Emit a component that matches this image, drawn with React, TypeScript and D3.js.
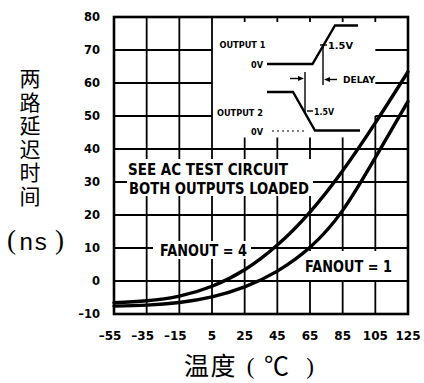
import React from "react";
import * as d3 from "d3";

// Propagation delay vs. temperature for two fanout loads
const temps = [-55, -35, -15, 5, 25, 45, 65, 85, 105, 125];
const fanout4 = [-6.6, -6.0, -4.6, -1.6, 3.4, 10.9, 20.9, 33.4, 47.9, 63.4];
const fanout1 = [-7.6, -7.3, -6.5, -4.8, -1.8, 3.0, 10.2, 21.4, 37.4, 54.4];

const yTicks = [-10, 0, 10, 20, 30, 40, 50, 60, 70, 80];
const xTickLabels = ["–55", "–35", "–15", "5", "25", "45", "65", "85", "105", "125"];
const yTitle = "两路延迟时间";
const xTitleWord = "温度";
const xTitleUnit = "℃";

const W = 424;
const H = 383;

const x = d3.scaleLinear().domain([-55, 125]).range([114, 408]);
const y = d3.scaleLinear().domain([-10, 80]).range([314, 17]);

const line = d3
  .line<number>()
  .x((_, i) => x(temps[i]))
  .y((d) => y(d))
  .curve(d3.curveNatural);

const tickFont = "'DejaVu Sans', sans-serif";
const cjkFont = "'Noto Sans CJK SC', sans-serif";

export default function App() {
  const x0 = x(-55);
  const x1 = x(125);
  const yTop = y(80);
  const yBot = y(-10);

  // grid segments; the upper-right block is kept open for the timing sketch
  const hLines: [number, number, number][] = [];
  yTicks
    .filter((v) => v > -10 && v < 80)
    .forEach((v) => {
      if (v >= 50) {
        hLines.push([x0, x(5), y(v)]);
        hLines.push([x(105), x1, y(v)]);
      } else {
        hLines.push([x0, x1, y(v)]);
      }
    });
  const vLines: [number, number, number][] = [];
  temps
    .filter((t) => t > -55 && t < 125)
    .forEach((t) => {
      if (t <= 5) {
        vLines.push([x(t), yTop, yBot]);
      } else {
        const start = t === 105 ? y(50) : y(43.5);
        vLines.push([x(t), start, yBot]);
        vLines.push([x(t), yTop, yTop + 5]);
      }
    });

  const bold = { fontFamily: tickFont, fontWeight: 700 } as const;

  return (
    <svg
      width={W}
      height={H}
      viewBox={`0 0 ${W} ${H}`}
      style={{ position: "absolute", left: 0, top: 0, background: "#fff" }}
    >
      <rect x={0} y={0} width={W} height={H} fill="#fff" />

      {/* grid */}
      <g stroke="#000" strokeWidth={1.8}>
        {hLines.map(([a, b, yy], i) => (
          <line key={"h" + i} x1={a} x2={b} y1={yy} y2={yy} />
        ))}
        {vLines.map(([xx, a, b], i) => (
          <line key={"v" + i} x1={xx} x2={xx} y1={a} y2={b} />
        ))}
      </g>

      {/* label backgrounds */}
      <g fill="#fff">
        <rect x={127} y={159} width={186} height={37} />
        <rect x={153} y={241} width={98} height={18} />
        <rect x={299} y={251} width={102} height={29} />
      </g>

      {/* curves */}
      <g fill="none" stroke="#000" strokeWidth={3.4} strokeLinecap="round">
        <path d={line(fanout4) ?? ""} />
        <path d={line(fanout1) ?? ""} />
      </g>

      {/* frame */}
      <rect
        x={x0}
        y={yTop}
        width={x1 - x0}
        height={yBot - yTop}
        fill="none"
        stroke="#000"
        strokeWidth={2.6}
      />

      {/* annotations */}
      <g {...bold} fontSize={16} fill="#000">
        <text x={128} y={175} textLength={160} lengthAdjust="spacingAndGlyphs">
          SEE AC TEST CIRCUIT
        </text>
        <text x={129} y={193.5} textLength={180} lengthAdjust="spacingAndGlyphs">
          BOTH OUTPUTS LOADED
        </text>
        <text x={160} y={255.5} fontSize={15} textLength={87} lengthAdjust="spacingAndGlyphs">
          FANOUT = 4
        </text>
        <text x={305} y={271.5} fontSize={15} textLength={87} lengthAdjust="spacingAndGlyphs">
          FANOUT = 1
        </text>
      </g>

      {/* timing sketch */}
      <g fill="none" stroke="#000" strokeWidth={2.4}>
        <path d="M267,64 H312.5 L335,25.5 H358" />
        <path d="M267,92 H293 L315,130.5 H360" />
      </g>
      <g stroke="#000" strokeWidth={1.4} fill="none">
        <line x1={323} x2={323} y1={44} y2={85} />
        <line x1={305} x2={305} y1={72} y2={113} />
        <line x1={320} x2={327} y1={45} y2={45} />
        <line x1={307} x2={313} y1={111} y2={111} />
        <line x1={290} x2={300} y1={78.5} y2={78.5} />
        <line x1={337} x2={328} y1={79.5} y2={79.5} />
        <line x1={272} x2={304} y1={131} y2={131} strokeDasharray="2 3" strokeWidth={1} />
      </g>
      <g fill="#000">
        <path d="M304,78.5 L298,76 L298,81 Z" />
        <path d="M324,79.5 L330,77 L330,82 Z" />
      </g>
      <g {...bold} fontSize={9} fill="#000">
        <text x={219.5} y={48.3} textLength={46} lengthAdjust="spacingAndGlyphs">OUTPUT 1</text>
        <text x={217} y={115.7} textLength={46} lengthAdjust="spacingAndGlyphs">OUTPUT 2</text>
        <text x={251} y={67.5} textLength={12} lengthAdjust="spacingAndGlyphs">0V</text>
        <text x={251} y={134.5} textLength={12} lengthAdjust="spacingAndGlyphs">0V</text>
        <text x={328} y={48.5} textLength={25} lengthAdjust="spacingAndGlyphs">1.5V</text>
        <text x={314} y={114.5} textLength={20} lengthAdjust="spacingAndGlyphs">1.5V</text>
        <text x={343} y={83} textLength={32} lengthAdjust="spacingAndGlyphs">DELAY</text>
      </g>

      {/* y tick labels */}
      <g {...bold} fontSize={11.5} fill="#000" textAnchor="end">
        {yTicks.map((v) => (
          <text key={v} x={100} y={y(v) + 4.2}>
            {v < 0 ? "–" + Math.abs(v) : String(v)}
          </text>
        ))}
      </g>

      {/* x tick labels */}
      <g {...bold} fontSize={12} fill="#000" textAnchor="middle">
        {temps.map((t, i) => (
          <text key={t} x={x(t) + (t < 0 ? -4 : 0)} y={340}>
            {xTickLabels[i]}
          </text>
        ))}
      </g>

      {/* y title, set vertically */}
      <text
        x={30}
        y={67.5}
        fontFamily={cjkFont}
        fontSize={21}
        fill="#000"
        writingMode="vertical-rl"
        letterSpacing={2.6}
      >
        {yTitle}
      </text>
      <g fill="#000" fontFamily="'Liberation Serif', serif" fontSize={27}>
        <text x={7} y={249}>(</text>
        <text
          x={33.5}
          y={249.5}
          textAnchor="middle"
          fontFamily="'Liberation Mono', monospace"
          fontSize={24}
        >
          ns
        </text>
        <text x={55} y={249}>)</text>
      </g>

      {/* x title */}
      <g fill="#000">
        <text x={184} y={375} fontFamily={cjkFont} fontSize={25} letterSpacing={1.5}>
          {xTitleWord}
        </text>
        <text x={250.5} y={374} fontFamily="'Liberation Serif', serif" fontSize={23} textAnchor="middle">
          (
        </text>
        <text x={276.5} y={375} fontFamily={cjkFont} fontSize={25} textAnchor="middle">
          {xTitleUnit}
        </text>
        <text x={310} y={374} fontFamily="'Liberation Serif', serif" fontSize={23} textAnchor="middle">
          )
        </text>
      </g>
    </svg>
  );
}
